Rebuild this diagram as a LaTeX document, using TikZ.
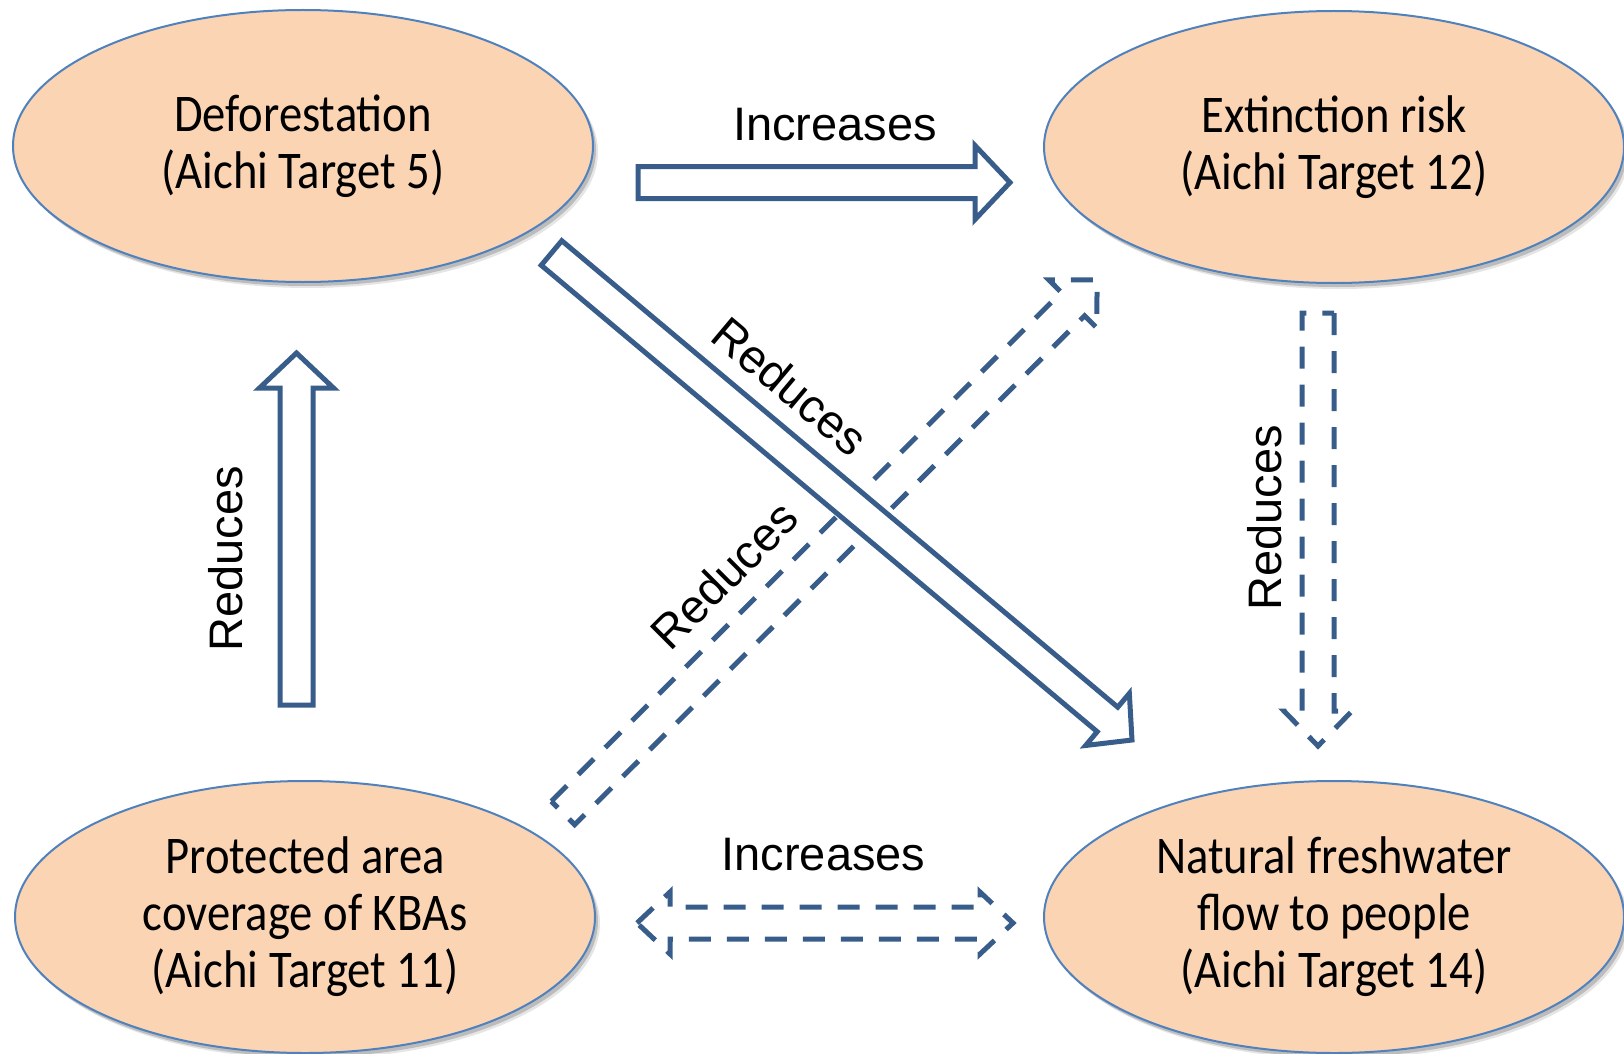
\documentclass[tikz,border=0pt]{standalone}
\usepackage{fontspec}
\setmainfont{Liberation Sans}
\newfontfamily\ellfont[FakeStretch=0.88]{Carlito}
\usetikzlibrary{shapes.geometric,calc,shadows}
\definecolor{efill}{HTML}{FBD4B4}
\definecolor{eline}{HTML}{4F81BD}
\definecolor{aline}{HTML}{385D8A}
\newcommand{\blkarrow}[6]{%
  \coordinate (hb) at ($(#3)!#6!(#2)$);
  \draw[#1] ($(#2)!#4!90:(#3)$) -- ($(hb)!#4!90:(#3)$) -- ($(hb)!#5!90:(#3)$) -- (#3)
    -- ($(hb)!#5!-90:(#3)$) -- ($(hb)!#4!-90:(#3)$) -- ($(#2)!#4!-90:(#3)$) -- cycle;
}
\newcommand{\dblarrow}[6]{%
  \coordinate (ha) at ($(#2)!#6!(#3)$);
  \coordinate (hb) at ($(#3)!#6!(#2)$);
  \draw[#1] (#2) -- ($(ha)!#5!90:(#3)$) -- ($(ha)!#4!90:(#3)$) -- ($(hb)!#4!90:(#3)$)
    -- ($(hb)!#5!90:(#3)$) -- (#3) -- ($(hb)!#5!-90:(#3)$) -- ($(hb)!#4!-90:(#3)$)
    -- ($(ha)!#4!-90:(#3)$) -- ($(ha)!#5!-90:(#3)$) -- cycle;
}
\begin{document}
\begin{tikzpicture}[x=1pt,y=-1pt,
  ell/.style={ellipse, draw=eline, line width=2pt, fill=efill,
    minimum width=580pt, minimum height=272pt, inner sep=0pt, align=center,
    font=\ellfont\fontsize{53}{57}\selectfont,
    drop shadow={shadow xshift=5pt, shadow yshift=-6pt, fill=black, opacity=0.10},
    drop shadow={shadow xshift=3pt, shadow yshift=-4pt, fill=black, opacity=0.18}},
  solidarr/.style={draw=aline, line width=5pt, line join=miter, fill=white},
  dasharr/.style={draw=aline, line width=5pt, line join=miter, dash pattern=on 22pt off 16pt},
  lbl/.style={font=\fontsize{47}{52}\selectfont, inner sep=0pt}]
\useasboundingbox (0,0) rectangle (1624,1054);

\node[ell] (defo) at (303,146) {Deforestation\\(Aichi Target 5)};
\node[ell] (ext) at (1334,147) {Extinction risk\\(Aichi Target 12)};
\node[ell] (prot) at (305,917) {Protected area\\coverage of KBAs\\(Aichi Target 11)};
\node[ell] (fresh) at (1334,917) {Natural freshwater\\flow to people\\(Aichi Target 14)};

% arrow end points
\coordinate (a1s) at (638,182.5);  \coordinate (a1e) at (1010,182.5);
\coordinate (a2s) at (296.5,705);  \coordinate (a2e) at (296.5,353);
\coordinate (a3s) at (1318,313);   \coordinate (a3e) at (1318,746);
\coordinate (a4s) at (637,923);    \coordinate (a4e) at (1013,923);
\coordinate (a5s) at (551.5,253);  \coordinate (a5e) at (1132,740);
\coordinate (a6s) at (563,813);    \coordinate (a6e) at (1097,280);

\blkarrow{solidarr}{a1s}{a1e}{16pt}{37pt}{35pt}
\blkarrow{solidarr}{a2s}{a2e}{16.5pt}{37pt}{35pt}
\blkarrow{dasharr}{a3s}{a3e}{16pt}{34pt}{35pt}
\dblarrow{dasharr}{a4s}{a4e}{16pt}{31pt}{33pt}
\blkarrow{dasharr}{a6s}{a6e}{16.5pt}{34pt}{34pt}
\blkarrow{solidarr}{a5s}{a5e}{16pt}{34pt}{32pt}

\node[lbl] (l1) at (835,125) {Increases};
\node[lbl] (l2) at (823.5,855) {Increases};
\node[lbl, rotate=90] (l3) at (226,559) {Reduces};
\node[lbl, rotate=90] (l4) at (1265,518) {Reduces};
\node[lbl, rotate=-40] (l5) at (790,386) {Reduces};
\node[lbl, rotate=45] (l6) at (724,575) {Reduces};
\end{tikzpicture}
\end{document}
